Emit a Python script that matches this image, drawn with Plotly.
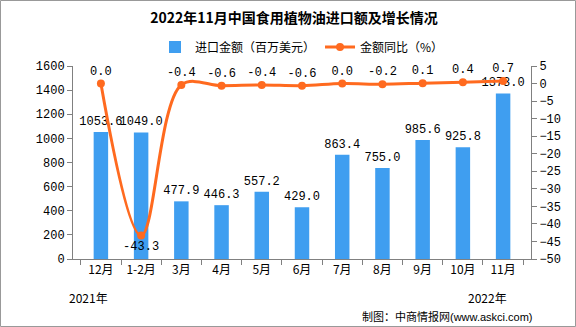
import plotly.graph_objects as go

categories = ["12月", "1-2月", "3月", "4月", "5月", "6月", "7月", "8月", "9月", "10月", "11月"]
import_value = [1053.6, 1049.0, 477.9, 446.3, 557.2, 429.0, 863.4, 755.0, 985.6, 925.8, 1373.0]
yoy_growth = [0.0, -43.3, -0.4, -0.6, -0.4, -0.6, 0.0, -0.2, 0.1, 0.4, 0.7]
left_ticks = [0, 200, 400, 600, 800, 1000, 1200, 1400, 1600]
right_ticks = [5, 0, -5, -10, -15, -20, -25, -30, -35, -40, -45, -50]

NUM_FONT = "Liberation Mono, DejaVu Sans Mono, monospace"
CJK_FONT = "Noto Sans CJK SC, Noto Sans, sans-serif"
BLUE = "#3f9ef0"
ORANGE = "#ff6a1f"

fig = go.Figure()
fig.add_trace(go.Bar(
    x=categories, y=import_value, name="进口金额（百万美元）",
    marker=dict(color=BLUE, line=dict(width=0)), width=0.36,
    text=[f"{v:.1f}" for v in import_value], textposition="outside",
    constraintext="none",
    textfont=dict(family=NUM_FONT, size=12, color="#000"), cliponaxis=False,
    yaxis="y",
))
fig.add_trace(go.Scatter(
    x=categories, y=yoy_growth, name="金额同比（%）", mode="lines+markers+text",
    line=dict(color=ORANGE, width=3, shape="spline", smoothing=1.0),
    marker=dict(color=ORANGE, size=8),
    text=[f"{v:.1f}" for v in yoy_growth],
    textposition=["bottom center" if v < -10 else "top center" for v in yoy_growth],
    textfont=dict(family=NUM_FONT, size=12, color="#000"), cliponaxis=False,
    yaxis="y2",
))

W, H = 576, 327
L, R, T, B = 73, 45, 66, 68
pw, ph = W - L - R, H - T - B
def px(x):
    return (x - L) / pw
def py(y):
    return (H - B - y) / ph

fig.update_layout(
    width=W, height=H, margin=dict(l=L, r=R, t=T, b=B),
    paper_bgcolor="white", plot_bgcolor="white",
    showlegend=True,
    legend=dict(orientation="h", x=0.5, xanchor="center", y=py(47), yanchor="middle",
                font=dict(family=CJK_FONT, size=12, color="#000"), itemwidth=30,
                bgcolor="rgba(0,0,0,0)", tracegroupgap=0),
    title=dict(text="<b>2022年11月中国食用植物油进口额及增长情况</b>", x=294 / W, xanchor="center",
               y=1 - 18 / H, yanchor="middle", font=dict(family=CJK_FONT, size=14, color="#000")),
    xaxis=dict(type="category", showline=True, linecolor="#808080", linewidth=1,
               ticks="outside", tickson="boundaries", ticklen=5, tickcolor="#808080",
               tickfont=dict(family=CJK_FONT, size=12, color="#000"), showgrid=False, zeroline=False),
    yaxis=dict(range=[0, 1600], tickvals=left_ticks, showline=True, linecolor="#808080",
               ticks="outside", ticklen=5, tickcolor="#808080", showgrid=False, zeroline=False,
               tickfont=dict(family=NUM_FONT, size=12, color="#000")),
    yaxis2=dict(range=[-50, 5], tickvals=right_ticks, overlaying="y", side="right",
                showline=True, linecolor="#808080", ticks="outside", ticklen=5, tickcolor="#808080",
                showgrid=False, zeroline=False,
                tickfont=dict(family=NUM_FONT, size=12, color="#000")),
    shapes=[dict(type="rect", xref="paper", yref="paper", x0=px(0.5), x1=px(575.5),
                 y0=py(326.5), y1=py(0.5), line=dict(color="#999999", width=1))],
    annotations=[
        dict(text="2021年", xref="paper", yref="paper", x=px(88), y=py(297), showarrow=False,
             font=dict(family=CJK_FONT, size=12, color="#000"), xanchor="center", yanchor="middle"),
        dict(text="2022年", xref="paper", yref="paper", x=px(487), y=py(297), showarrow=False,
             font=dict(family=CJK_FONT, size=12, color="#000"), xanchor="center", yanchor="middle"),
        dict(text="制图：中商情报网<span style='font-family:Liberation Sans'>(www.askci.com)</span>",
             xref="paper", yref="paper", x=px(535), y=py(316), showarrow=False,
             font=dict(family=CJK_FONT, size=11, color="#000"), xanchor="right", yanchor="middle"),
    ],
)

fig.write_html("out.html")
